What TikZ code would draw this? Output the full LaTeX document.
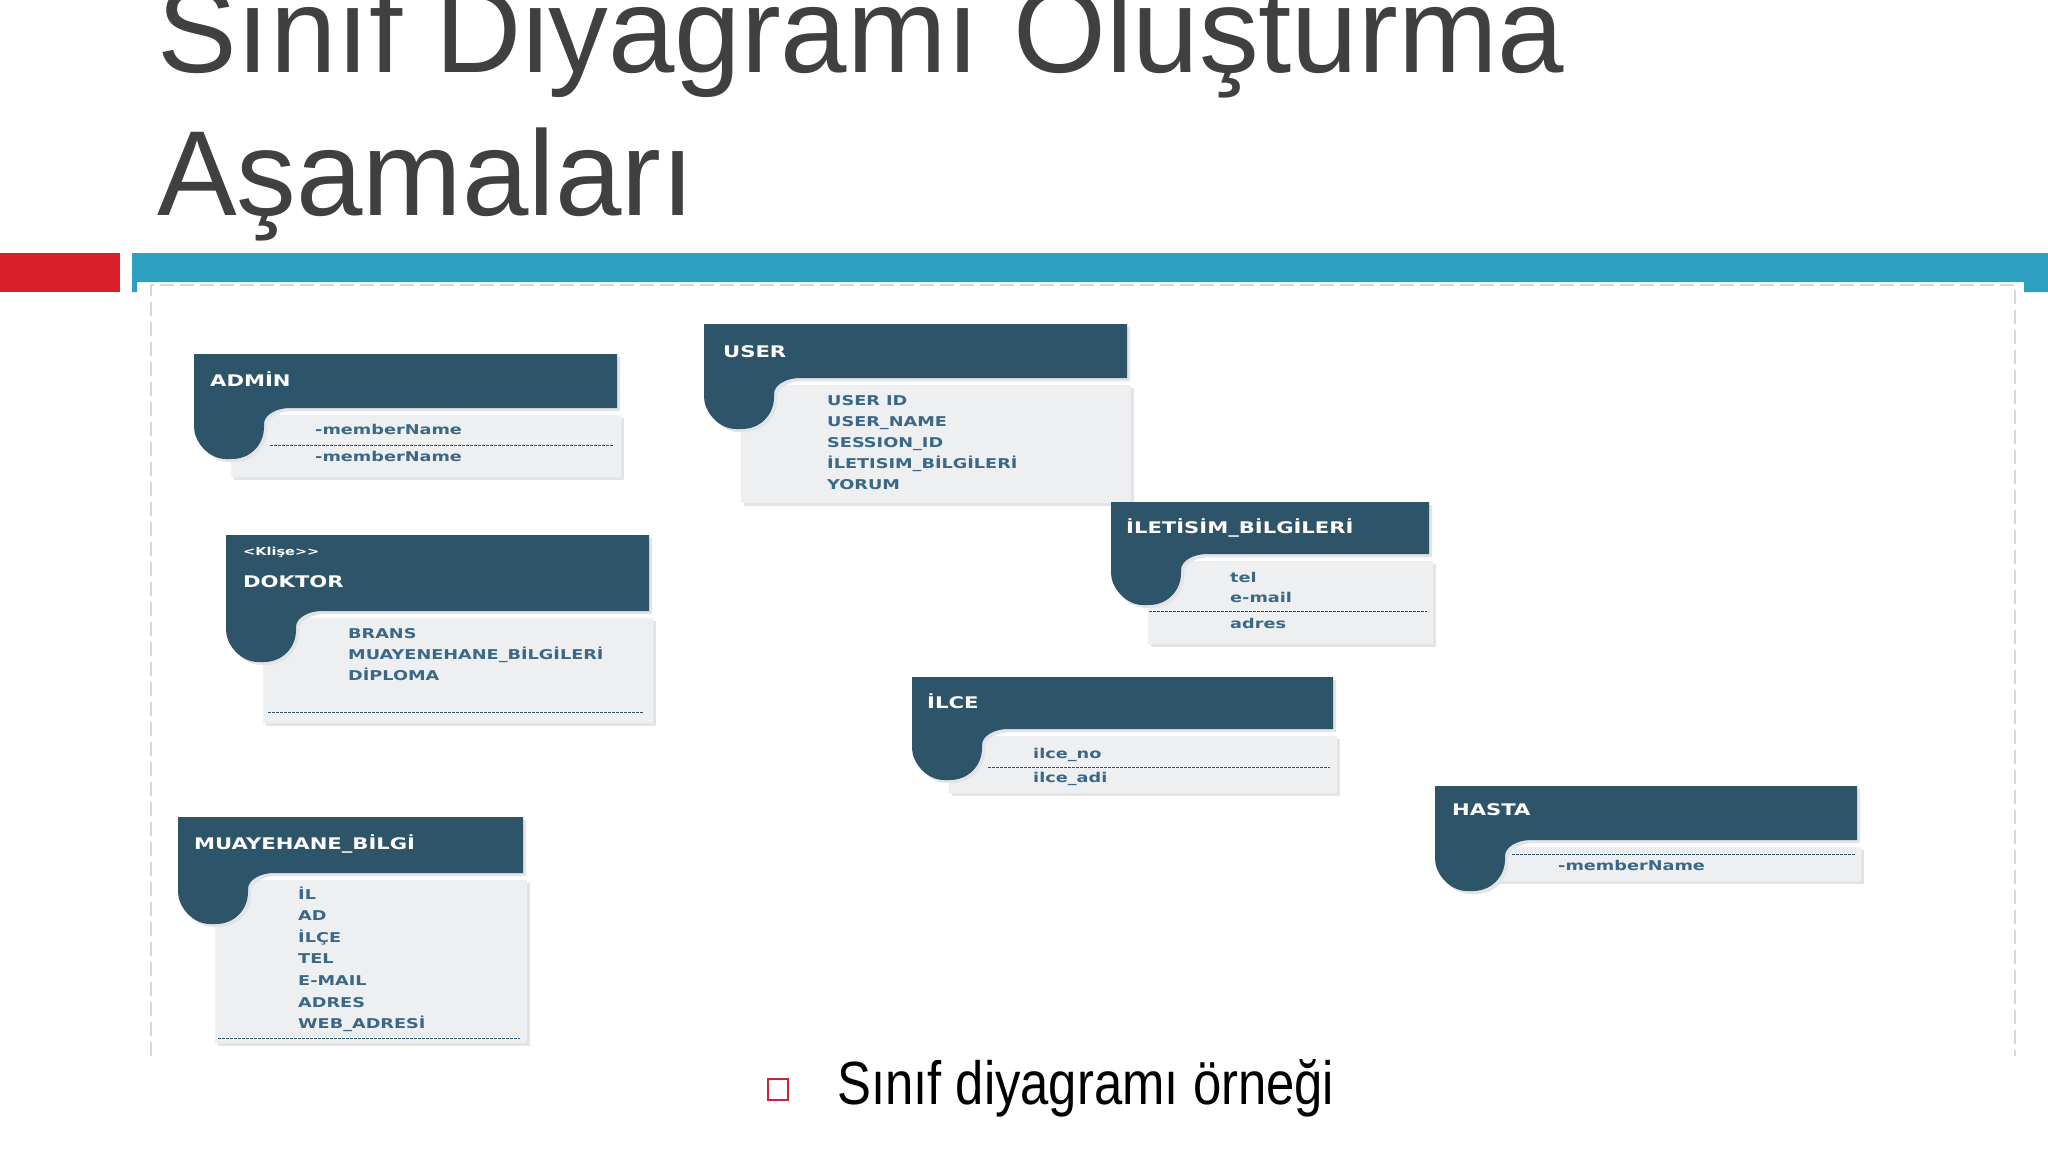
\documentclass[tikz,border=0pt]{standalone}
\usepackage{fontspec}
\setmainfont{Liberation Sans}
\newfontfamily\hdrfont[FakeStretch=1.32]{DejaVu Sans}
\newfontfamily\attrfont[FakeStretch=1.31]{DejaVu Sans}
\definecolor{hdrc}{HTML}{2D5468}
\definecolor{bodyc}{HTML}{EEEFF1}
\definecolor{attrc}{HTML}{3A6886}
\definecolor{shadc}{HTML}{E3E4E7}
\definecolor{redc}{HTML}{D91F2A}
\definecolor{bluec}{HTML}{2DA0C1}
\definecolor{titlec}{HTML}{404040}
\definecolor{framec}{HTML}{D8D8D8}
\definecolor{sqc}{HTML}{CC2233}
\tikzset{
  hdrtxt/.style={anchor=base west, inner sep=0pt, text=white, font=\hdrfont\bfseries\fontsize{16}{18}\selectfont},
  sterotxt/.style={anchor=base west, inner sep=0pt, text=white, font=\hdrfont\bfseries\fontsize{11}{13}\selectfont},
  attrtxt/.style={anchor=base west, inner sep=0pt, text=attrc, font=\attrfont\bfseries\fontsize{13.5}{15}\selectfont},
  sepline/.style={draw=hdrc, line width=1pt, dash pattern=on 2.5pt off 1.5pt},
  titletxt/.style={anchor=base west, inner sep=0pt, text=titlec, font=\fontsize{121}{140}\selectfont},
}
% header + tail path: x0,y0,x1,y1
\newcommand{\hdrshape}[4]{(#1,#2) -- (#3,#2) -- (#3,#4) -- (#1+96,#4)
  .. controls (#1+82,#4) and (#1+70,#4+7) .. (#1+70,#4+16) -- (#1+70,#4+19)
  .. controls (#1+70,#4+37) and (#1+56,#4+51) .. (#1+38,#4+51) -- (#1+32,#4+51)
  .. controls (#1+14,#4+51) and (#1,#4+33) .. (#1,#4+19) -- cycle}
% class box: x0,y0,x1,y1 (header), body bottom
\newcommand{\classbox}[5]{%
  \fill[shadc] (#1+40,#4+10) rectangle (#3+7,#5+3);
  \fill[bodyc] (#1+37,#4+7) rectangle (#3+4,#5);
  \fill[shadc, shift={(3,3)}] \hdrshape{#1}{#2}{#3}{#4};
  \fill[hdrc] \hdrshape{#1}{#2}{#3}{#4};
}
\begin{document}
\begin{tikzpicture}[x=1pt,y=-1pt]
\useasboundingbox (0,0) rectangle (2048,1152);
\clip (0,0) rectangle (2048,1152);
\fill[white] (0,0) rectangle (2048,1152);

% title
\node[titletxt] (title1) at (157,72) {\scalebox{0.987}[1]{Sınıf Diyagramı Oluşturma}};
\node[titletxt] (title2) at (157,215) {\scalebox{0.987}[1]{Aşamaları}};

% bars
\fill[redc] (0,253) rectangle (120,292);
\fill[bluec] (132,253) -- (2048,253) -- (2048,292) -- (2024,292) -- (2024,282) -- (137,282) -- (137,292) -- (132,292) -- cycle;

% frame
\draw[framec, line width=2pt, dash pattern=on 14pt off 6pt] (151,1056) -- (151,285) -- (2015,285) -- (2015,1056);

% ADMIN
\classbox{194}{354}{617}{408}{477}
\node[hdrtxt] (adminT) at (210,386) {ADMİN};
\node[attrtxt] (adminA1) at (315,434) {-memberName};
\draw[sepline] (270,445) -- (613,445);
\node[attrtxt] (adminA2) at (315,461) {-memberName};

% USER
\classbox{704}{324}{1127}{378}{503}
\node[hdrtxt] (userT) at (723,357) {USER};
\node[attrtxt] (userA1) at (827,405) {USER ID};
\node[attrtxt] (userA2) at (827,426) {USER\_NAME};
\node[attrtxt] (userA3) at (827,447) {SESSION\_ID};
\node[attrtxt] (userA4) at (827,468) {İLETISIM\_BİLGİLERİ};
\node[attrtxt] (userA5) at (827,489) {YORUM};

% ILETISIM
\classbox{1111}{502}{1429}{554}{644}
\node[hdrtxt] (iletT) at (1126,533) {İLETİSİM\_BİLGİLERİ};
\node[attrtxt] (iletA1) at (1230,582) {tel};
\node[attrtxt] (iletA2) at (1230,602) {e-mail};
\draw[sepline] (1149,611) -- (1427,611);
\node[attrtxt] (iletA3) at (1230,628) {adres};

% ILCE
\classbox{912}{677}{1333}{729}{793}
\node[hdrtxt] (ilceT) at (927,708) {İLCE};
\node[attrtxt] (ilceA1) at (1033,758) {ilce\_no};
\draw[sepline] (988,767) -- (1330,767);
\node[attrtxt] (ilceA2) at (1033,782) {ilce\_adi};

% HASTA
\classbox{1435}{786}{1857}{840}{881}
\node[hdrtxt] (hastaT) at (1452,815) {HASTA};
\draw[sepline] (1512,854) -- (1855,854);
\node[attrtxt] (hastaA1) at (1558,870) {-memberName};

% DOKTOR
\classbox{226}{535}{649}{611}{723}
\node[sterotxt] (doktorS) at (243,555) {<Klişe>>};
\node[hdrtxt] (doktorT) at (243,587) {DOKTOR};
\node[attrtxt] (doktorA1) at (348,638) {BRANS};
\node[attrtxt] (doktorA2) at (348,659) {MUAYENEHANE\_BİLGİLERİ};
\node[attrtxt] (doktorA3) at (348,680) {DİPLOMA};
\draw[sepline] (268,712) -- (643,712);

% MUAYEHANE_BILGI
\classbox{178}{817}{523}{873}{1043}
\node[hdrtxt] (muayT) at (194,849) {MUAYEHANE\_BİLGİ};
\node[attrtxt] (muayA1) at (298,899) {İL};
\node[attrtxt] (muayA2) at (298,920) {AD};
\node[attrtxt] (muayA3) at (298,942) {İLÇE};
\node[attrtxt] (muayA4) at (298,963) {TEL};
\node[attrtxt] (muayA5) at (298,985) {E-MAIL};
\node[attrtxt] (muayA6) at (298,1007) {ADRES};
\node[attrtxt] (muayA7) at (298,1028) {WEB\_ADRESİ};
\draw[sepline] (218,1038) -- (520,1038);

% footer
\draw[sqc, line width=2.5pt] (768,1079) rectangle (788,1100);
\node[anchor=base west, inner sep=0pt, font=\fontsize{61}{70}\selectfont] (footer) at (837,1104) {\scalebox{0.833}[1]{Sınıf diyagramı örneği}};
\end{tikzpicture}
\end{document}
